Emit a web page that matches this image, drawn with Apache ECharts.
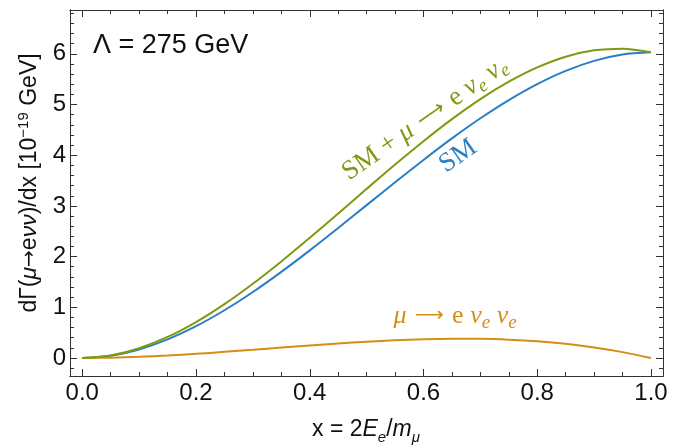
<!DOCTYPE html>
<html><head><meta charset="utf-8">
<script src="https://cdn.jsdelivr.net/npm/echarts@6/dist/echarts.min.js"></script>
<style>html,body{margin:0;padding:0;background:#fff}#c{width:683px;height:445px}</style>
</head><body><div id="c"></div>
<script>
// x = 2E_e/m_mu
const xValues = [0, 0.05, 0.1, 0.15, 0.2, 0.25, 0.3, 0.35, 0.4, 0.45, 0.5, 0.55, 0.6, 0.65, 0.7, 0.75, 0.8, 0.85, 0.9, 0.95, 1.0];
// SM spectrum [1e-19 GeV]
const smValues = [0, 0.044, 0.169, 0.366, 0.627, 0.942, 1.302, 1.699, 2.123, 2.564, 3.015, 3.466, 3.907, 4.331, 4.728, 5.088, 5.403, 5.664, 5.861, 5.986, 6.03];
// mu -> e nu_e nu_e
const npValues = [0, 0.006, 0.023, 0.049, 0.082, 0.121, 0.162, 0.205, 0.247, 0.286, 0.321, 0.350, 0.370, 0.380, 0.378, 0.361, 0.329, 0.279, 0.208, 0.116, 0];
// SM + mu -> e nu_e nu_e
const totalValues = [0, 0.050, 0.192, 0.415, 0.709, 1.063, 1.464, 1.904, 2.370, 2.850, 3.336, 3.816, 4.277, 4.711, 5.106, 5.449, 5.732, 5.943, 6.069, 6.102, 6.03];

const xMajorTicks = [0, 0.2, 0.4, 0.6, 0.8, 1.0];
const xMinorTicks = [0.05, 0.1, 0.15, 0.25, 0.3, 0.35, 0.45, 0.5, 0.55, 0.65, 0.7, 0.75, 0.85, 0.9, 0.95];
const yMajorTicks = [0, 1, 2, 3, 4, 5, 6];
const yMinorTicks = [-0.2, 0.2, 0.4, 0.6, 0.8, 1.2, 1.4, 1.6, 1.8, 2.2, 2.4, 2.6, 2.8, 3.2, 3.4, 3.6, 3.8, 4.2, 4.4, 4.6, 4.8, 5.2, 5.4, 5.6, 5.8, 6.2, 6.4, 6.6, 6.8];

const XMIN = -0.0216, XMAX = 1.0211, YMIN = -0.355, YMAX = 6.864;
const FRAME = '#333';
const SANS = 'Liberation Sans, Arial, sans-serif';
const SERIF = 'Liberation Serif, Times New Roman, serif';
const ARROWFONT = 'DejaVu Sans, sans-serif';

function xAx(pos, ticks, len, labels) {
  return {
    type: 'value', position: pos, min: XMIN, max: XMAX, gridIndex: 0,
    axisLine: { show: true, onZero: false, lineStyle: { color: FRAME, width: 1 } },
    axisTick: { show: true, inside: true, length: len, customValues: ticks, lineStyle: { color: FRAME, width: 1 } },
    axisLabel: labels ? { show: true, customValues: ticks, formatter: v => v.toFixed(1), margin: 5, fontSize: 24, color: '#111', fontFamily: SANS } : { show: false },
    splitLine: { show: false }, minorTick: { show: false }
  };
}
function yAx(pos, ticks, len, labels) {
  return {
    type: 'value', position: pos, min: YMIN, max: YMAX, gridIndex: 0,
    axisLine: { show: true, onZero: false, lineStyle: { color: FRAME, width: 1 } },
    axisTick: { show: true, inside: true, length: len, customValues: ticks, lineStyle: { color: FRAME, width: 1 } },
    axisLabel: labels ? { show: true, customValues: ticks, formatter: v => String(Math.round(v)), margin: 4, fontSize: 24, color: '#111', fontFamily: SANS } : { show: false },
    splitLine: { show: false }, minorTick: { show: false }
  };
}

const pts = ys => xValues.map((x, i) => [x, ys[i]]);
const lineSeries = (name, ys, color) => ({
  name, type: 'line', xAxisIndex: 0, yAxisIndex: 0, data: pts(ys),
  showSymbol: false, symbol: 'none', smooth: 0.3,
  lineStyle: { color, width: 2 }, itemStyle: { color }, z: 3
});

const BLUE = '#2a7fc3', GREEN = '#7d9a10', ORANGE = '#d48f12';

function procRich(color, size) {
  return {
    n: { fontSize: size, fontFamily: SERIF, fill: color, lineHeight: 32 },
    i: { fontSize: size, fontFamily: SERIF, fontStyle: 'italic', fill: color, lineHeight: 32 },
    r: { fontSize: size - 6, fontFamily: ARROWFONT, fill: color, lineHeight: 32, padding: [0, 2, 0, 2] },
    s: { fontSize: Math.round(size * 0.72), fontFamily: SERIF, fontStyle: 'italic', fill: color, verticalAlign: 'bottom' }
  };
}

const chart = echarts.init(document.getElementById('c'), null, { renderer: 'canvas' });
chart.setOption({
  animation: false,
  backgroundColor: '#fff',
  grid: { left: 70, top: 10, right: 20, bottom: 69, containLabel: false },
  xAxis: [xAx('bottom', xMajorTicks, 7, true), xAx('bottom', xMinorTicks, 4, false), xAx('top', xMajorTicks, 7, false), xAx('top', xMinorTicks, 4, false)],
  yAxis: [yAx('left', yMajorTicks, 7, true), yAx('left', yMinorTicks, 4, false), yAx('right', yMajorTicks, 7, false), yAx('right', yMinorTicks, 4, false)],
  series: [
    lineSeries('SM', smValues, BLUE),
    lineSeries('μ → e ν_e ν_e', npValues, ORANGE),
    lineSeries('SM + μ → e ν_e ν_e', totalValues, GREEN)
  ],
  graphic: [
    { type: 'text', x: 93, y: 46, style: { text: 'Λ = 275 GeV', fontSize: 27, fontFamily: SANS, fill: '#111', align: 'left', textAlign: 'left', verticalAlign: 'middle', textVerticalAlign: 'middle' } },
    { type: 'text', x: 366, y: 430, style: {
        text: '{a|x = 2}{i|E}{s|e}{a|/}{i|m}{s|μ}',
        rich: {
          a: { fontSize: 23, fontFamily: SANS, fill: '#111', lineHeight: 30 },
          i: { fontSize: 23, fontFamily: SANS, fontStyle: 'italic', fill: '#111', lineHeight: 30 },
          s: { fontSize: 15, fontFamily: SANS, fontStyle: 'italic', fill: '#111', verticalAlign: 'bottom' }
        },
        align: 'center', textAlign: 'center', verticalAlign: 'middle', textVerticalAlign: 'middle' } },
    { type: 'text', x: 30, y: 183, rotation: Math.PI / 2, style: {
        text: '{a|dΓ(}{i|μ}{r|→}{a|e}{i|νν}{a|)/dx [10}{s|−19}{a| GeV]}',
        rich: {
          a: { fontSize: 23, fontFamily: SANS, fill: '#111', lineHeight: 28 },
          i: { fontSize: 23, fontFamily: SANS, fontStyle: 'italic', fill: '#111', lineHeight: 28 },
          r: { fontSize: 20, fontFamily: ARROWFONT, fill: '#111', lineHeight: 28 },
          s: { fontSize: 15, fontFamily: SANS, fill: '#111', verticalAlign: 'top' }
        },
        align: 'center', textAlign: 'center', verticalAlign: 'middle', textVerticalAlign: 'middle' } },
    { type: 'text', x: 425, y: 119, rotation: 35 * Math.PI / 180, style: {
        text: '{n|SM + }{i|μ}{n| }{r|⟶}{n| e }{i|ν}{s|e}{n| }{i|ν}{s|e}',
        rich: procRich(GREEN, 27),
        align: 'center', textAlign: 'center', verticalAlign: 'middle', textVerticalAlign: 'middle' } },
    { type: 'text', x: 458, y: 156, rotation: 35 * Math.PI / 180, style: {
        text: 'SM', fontSize: 27, fontFamily: SERIF, fill: BLUE,
        align: 'center', textAlign: 'center', verticalAlign: 'middle', textVerticalAlign: 'middle' } },
    { type: 'text', x: 455, y: 316, style: {
        text: '{i|μ}{n| }{r|⟶}{n| e }{i|ν}{s|e}{n| }{i|ν}{s|e}',
        rich: procRich(ORANGE, 26),
        align: 'center', textAlign: 'center', verticalAlign: 'middle', textVerticalAlign: 'middle' } }
  ]
});
</script>
</body></html>
